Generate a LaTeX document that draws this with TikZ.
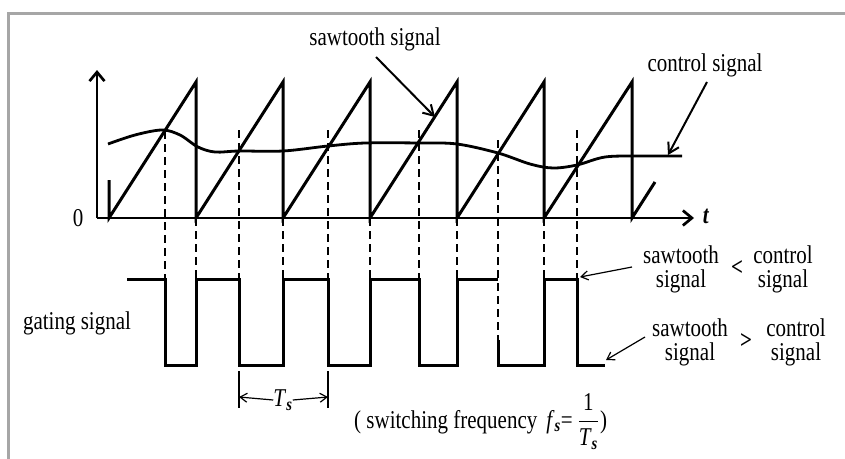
\documentclass[tikz,border=0pt]{standalone}
\usepackage{fontspec}
\setmainfont{Liberation Serif}
\usetikzlibrary{arrows.meta}
\definecolor{framegray}{RGB}{166,166,166}
\newcommand{\talltext}[1]{\scalebox{1}[1.22]{#1}}
\begin{document}
\begin{tikzpicture}[x=1pt,y=-1pt,
  lbl/.style={font=\fontsize{21}{24}\selectfont, inner sep=0pt},
  wave/.style={line width=3pt, line join=miter, line cap=butt},
  dashln/.style={line width=2.3pt, dash pattern=on 8pt off 5pt},
  thinarr/.style={line width=1.2pt, -{Straight Barb[length=7pt,width=9pt]}},
  midarr/.style={line width=2pt, -{Straight Barb[length=10pt,width=12pt]}},
  axarr/.style={line width=2.7pt, -{Straight Barb[length=9pt,width=15pt]}}]
\useasboundingbox (0,0) rectangle (845,458);
\fill[white] (0,0) rectangle (845,458);
\draw[line width=2.8pt, framegray] (8.7,470) -- (8.7,13.5) -- (860,13.5);

% axes
\coordinate (O) at (97,218);
\coordinate (ytip) at (97,70);
\coordinate (xtip) at (694,218);
\draw[axarr] (O) -- (ytip);
\draw[axarr] (O) -- (xtip);
\node[lbl] (zero) at (78,218) {\talltext{0}};
\node[lbl] (tlab) at (706,216) {\talltext{\textbf{\textit{t}}}};

% sawtooth
\draw[wave] (109,180) -- (109,218) -- (196,82) -- (196,218) -- (283,82) -- (283,218)
  -- (370,82) -- (370,218) -- (457,82) -- (457,218) -- (544,82) -- (544,218)
  -- (632,82) -- (632,218) -- (655,182);

% control signal
\draw[line width=2.8pt] plot[smooth, tension=0.55] coordinates {
  (108,144) (135,135) (162,130) (180,135) (198,147) (215,152) (239,151) (283,151)
  (328,146) (365,143) (420,143) (457,144) (498,153) (530,164) (553,168) (577,165)
  (605,157) (640,156) (682,156)};

% dashed lines
\foreach \xx/\yt/\yb in {165/131/279, 239/130/279, 328/130/279, 419/130/279, 498/140/340, 577/130/279,
  196/218/279, 283/218/279, 370/218/279, 457/218/279, 544/218/279}
  \draw[dashln] (\xx,\yt) -- (\xx,\yb);

% gating signal
\draw[wave] (127,279) -- (165,279) -- (165,365) -- (196,365) -- (196,279) -- (239,279)
  -- (239,365) -- (283,365) -- (283,279) -- (328,279) -- (328,365) -- (370,365)
  -- (370,279) -- (419,279) -- (419,365) -- (457,365) -- (457,279) -- (498,279);
\draw[wave] (498,340) -- (498,365) -- (544,365) -- (544,279) -- (577,279)
  -- (577,365) -- (605,365);

% Ts marker
\coordinate (tsL) at (239,397);
\coordinate (tsR) at (328,397);
\draw[line width=1.3pt] (239,371) -- (239,408);
\draw[line width=1.3pt] (328,371) -- (328,408);
\node[lbl] (Ts) at (283,400) {\talltext{\textit{T}\textsubscript{\textbf{\textit{s}}}}};
\draw[thinarr] (Ts.west) -- (tsL);
\draw[thinarr] (Ts.east) -- (tsR);

% labels
\node[lbl] (sawlab) at (375,39) {\talltext{sawtooth signal}};
\coordinate (sawA) at (376,57);
\coordinate (sawB) at (435,117);
\draw[midarr] (sawA) -- (sawB);

\node[lbl] (ctrllab) at (705,65) {\talltext{control signal}};
\coordinate (ctrlA) at (707,82);
\coordinate (ctrlB) at (668,155);
\draw[midarr] (ctrlA) -- (ctrlB);

\node[lbl] (gatelab) at (77,323) {\talltext{gating signal}};

\node[lbl] (s1a) at (681,255) {\talltext{sawtooth}};
\node[lbl] (s1b) at (681,281) {\talltext{signal}};
\node[lbl] (lt) at (737,268) {\talltext{\textbf{<}}};
\node[lbl] (c1a) at (783,255) {\talltext{control}};
\node[lbl] (c1b) at (783,281) {\talltext{signal}};
\coordinate (hiA) at (632,267);
\coordinate (hiB) at (580,277);
\draw[thinarr] (hiA) -- (hiB);

\node[lbl] (s2a) at (690,328) {\talltext{sawtooth}};
\node[lbl] (s2b) at (690,354) {\talltext{signal}};
\node[lbl] (gt) at (746,341) {\talltext{\textbf{>}}};
\node[lbl] (c2a) at (796,328) {\talltext{control}};
\node[lbl] (c2b) at (796,354) {\talltext{signal}};
\coordinate (loA) at (645,337);
\coordinate (loB) at (606,360);
\draw[thinarr] (loA) -- (loB);

\node[lbl, anchor=base west] (freq) at (354,428)
  {\talltext{( switching frequency\hspace{9pt}\textit{f}\textsubscript{\textbf{\textit{s}}}=\hspace{5pt}$\displaystyle\frac{\mbox{1}}{\mbox{\textit{T}\textsubscript{\textbf{\textit{s}}}}}$\hspace{1pt})}};
\end{tikzpicture}
\end{document}
